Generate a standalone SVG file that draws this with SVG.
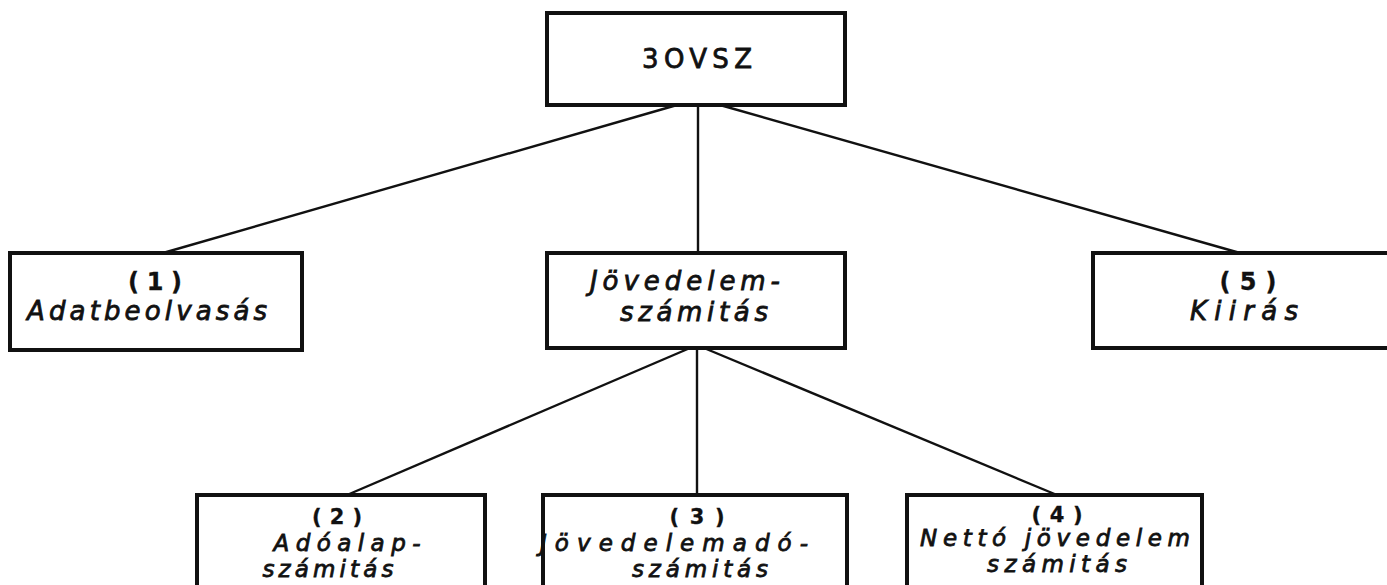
<svg xmlns="http://www.w3.org/2000/svg" width="1387" height="585" viewBox="0 0 1387 585">
<style>
.box{fill:#fff;stroke:#111;stroke-width:4}
.ln{stroke:#111;stroke-width:2.4;fill:none}
text{font-family:"DejaVu Sans","Liberation Sans",sans-serif;fill:#111;stroke:#111;stroke-width:0.8;font-size:26px}
.it{font-style:italic}
.num{font-weight:bold;font-size:24px;stroke-width:0.3}
.sm{font-size:23px}
.snum{font-size:21px}
</style>
<rect width="1387" height="585" fill="#fff"/>
<g id="connectors">
<line class="ln" x1="677" y1="105" x2="163" y2="253"/>
<line class="ln" x1="698" y1="105" x2="698" y2="253"/>
<line class="ln" x1="720" y1="105" x2="1240" y2="253"/>
<line class="ln" x1="690" y1="348" x2="347" y2="495"/>
<line class="ln" x1="697" y1="348" x2="697" y2="495"/>
<line class="ln" x1="704" y1="348" x2="1057" y2="495"/>
</g>
<g id="jovsz">
<rect class="box" x="547" y="13" width="298" height="92"/>
<text x="697" y="68" text-anchor="middle" font-size="24" textLength="110" lengthAdjust="spacing">3OVSZ</text>
</g>
<g id="n1">
<rect class="box" x="10" y="253" width="292" height="97"/>
<text class="num" x="155" y="290" text-anchor="middle" textLength="54" lengthAdjust="spacing">(1)</text>
<text class="it" x="147" y="320" text-anchor="middle" textLength="240" lengthAdjust="spacing">Adatbeolvasás</text>
</g>
<g id="jovedelem">
<rect class="box" x="547" y="253" width="298" height="95"/>
<text class="it" x="685" y="290" text-anchor="middle" textLength="190" lengthAdjust="spacing">Jövedelem-</text>
<text class="it" x="694" y="321" text-anchor="middle" textLength="148" lengthAdjust="spacing">számitás</text>
</g>
<g id="n5">
<rect class="box" x="1093" y="253" width="310" height="95"/>
<text class="num" x="1248" y="290" text-anchor="middle" textLength="57" lengthAdjust="spacing">(5)</text>
<text class="it" x="1244" y="320" text-anchor="middle" textLength="108" lengthAdjust="spacing">Kiirás</text>
</g>
<g id="n2">
<rect class="box" x="197" y="495" width="288" height="110"/>
<text class="num snum" x="337" y="524" text-anchor="middle" textLength="50" lengthAdjust="spacing">(2)</text>
<text class="it sm" x="347" y="551" text-anchor="middle" textLength="147" lengthAdjust="spacing">Adóalap-</text>
<text class="it sm" x="328" y="577" text-anchor="middle" textLength="131" lengthAdjust="spacing">számitás</text>
</g>
<g id="n3">
<rect class="box" x="543" y="495" width="304" height="110"/>
<text class="num snum" x="697" y="524" text-anchor="middle" textLength="55" lengthAdjust="spacing">(3)</text>
<text class="it sm" x="674" y="551" text-anchor="middle" textLength="268" lengthAdjust="spacing">Jövedelemadó-</text>
<text class="it sm" x="700" y="577" text-anchor="middle" textLength="136" lengthAdjust="spacing">számitás</text>
</g>
<g id="n4">
<rect class="box" x="907" y="495" width="295" height="110"/>
<text class="num snum" x="1057" y="522" text-anchor="middle" textLength="51" lengthAdjust="spacing">(4)</text>
<text class="it sm" x="1055" y="546" text-anchor="middle" textLength="270" lengthAdjust="spacing">Nettó jövedelem</text>
<text class="it sm" x="1057" y="572" text-anchor="middle" textLength="140" lengthAdjust="spacing">számitás</text>
</g>
</svg>
